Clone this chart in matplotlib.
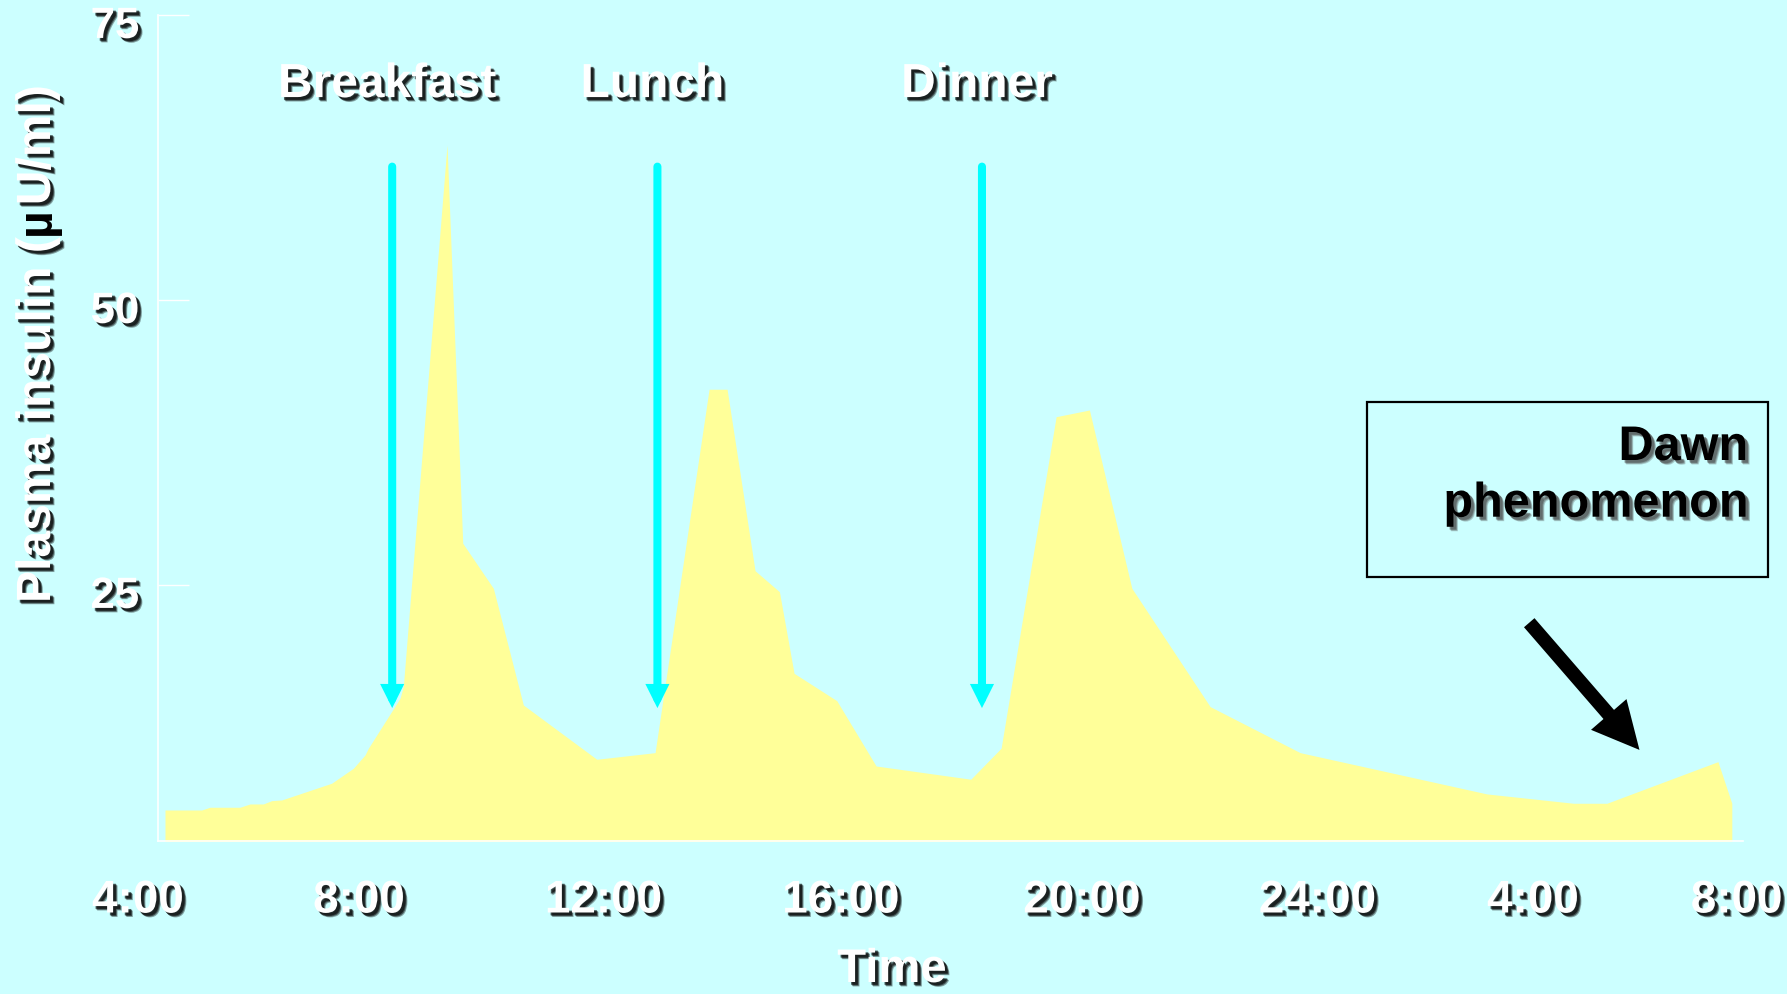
import matplotlib
matplotlib.use("Agg")
import matplotlib.pyplot as plt
import matplotlib.patheffects as pe
from matplotlib.patches import Rectangle
from matplotlib.transforms import ScaledTranslation

# ---- data (hours since 0:00 of day 1; values in µU/ml) ----
hours = [4.0, 4.656, 4.804, 5.340, 5.519, 5.757, 5.907, 6.086, 6.979, 7.366,
         7.575, 7.634, 8.200, 8.259, 9.040, 9.321, 9.868, 10.404, 11.716, 12.758,
         13.723, 14.045, 14.545, 14.980, 15.242, 16.005, 16.708, 18.400, 18.942,
         19.925, 20.520, 21.278, 22.677, 24.286, 27.623, 29.171, 29.768, 31.752, 32.0]
insulin = [5.26, 5.26, 5.50, 5.50, 5.79, 5.79, 6.08, 6.14, 7.61, 8.92,
           10.09, 10.68, 15.06, 16.08, 63.60, 28.66, 24.71, 14.47, 9.71, 10.29,
           42.17, 42.17, 26.25, 24.41, 17.25, 14.85, 9.12, 7.96, 10.68,
           39.76, 40.35, 24.71, 14.33, 10.29, 6.67, 5.85, 5.85, 9.50, 5.85]

meal_names = ["Breakfast", "Lunch", "Dinner"]
meal_times = [8.06, 12.80, 18.60]
meal_arrow_top = 61.7
meal_arrow_tip = 14.2
meal_label_y = 67.8

dawn_from = (28.38, 21.69)
dawn_to = (30.35, 10.53)
dawn_lines = ["Dawn", "phenomenon"]

tick_pos = [3.52, 7.47, 11.84, 16.08, 20.39, 24.60, 28.45, 32.09]
tick_labels = ["4:00", "8:00", "12:00", "16:00", "20:00", "24:00", "4:00", "8:00"]
y_ticks = [25, 50, 75]

# ---- style ----
plt.rcParams['font.family'] = ['Liberation Sans', 'DejaVu Sans']
BG = '#CCFFFF'
AREA = '#FFFF99'
CYAN = '#00FFFF'
W, H = 1787, 994


def shadow(color, alpha):
    fx = []
    for d, a in [(3.2, alpha * 0.35), (2.6, alpha * 0.5), (2.0, alpha * 0.6)]:
        fx.append(pe.SimplePatchShadow(offset=(d, -d), shadow_rgbFace=color, alpha=a))
    fx.append(pe.Normal())
    return fx


white_fx = shadow('black', 1.0)
black_fx = shadow('#444444', 0.8)

fig = plt.figure(figsize=(W / 100, H / 100), dpi=100, facecolor=BG)
ax = fig.add_axes([158 / W, 1 - 841 / H, (1743 - 158) / W, (841 - 15) / H])
ax.set_facecolor(BG)

ax.fill_between(hours, insulin, 0, color=AREA, linewidth=0, zorder=1)

for s in ['top', 'right']:
    ax.spines[s].set_visible(False)
for s in ['left', 'bottom']:
    ax.spines[s].set_color('white')
    ax.spines[s].set_linewidth(1.2)

ax.set_xticks([])
ax.set_yticks(y_ticks)
ax.tick_params(axis='y', direction='in', length=22, width=1, color='white',
               pad=13.5, labelsize=31.5, labelcolor='white')
down = ScaledTranslation(0, -5 / 72, fig.dpi_scale_trans)
for lbl in ax.get_yticklabels():
    lbl.set_fontweight('bold')
    lbl.set_path_effects(white_fx)
    lbl.set_transform(lbl.get_transform() + down)

ax.set_xlim(3.875, 32.2)
ax.set_ylim(2.54, 75)

# x tick labels (first one sits left of the axis, as in the original)
xt = ax.get_xaxis_transform()
for p, lab in zip(tick_pos, tick_labels):
    ax.text(p, -37.5 / 826, lab, transform=xt, ha='center', va='top', fontsize=33,
            fontweight='bold', color='white', path_effects=white_fx)

# meal arrows and labels
for name, t in zip(meal_names, meal_times):
    ax.annotate("", xy=(t, meal_arrow_tip), xytext=(t, meal_arrow_top),
                arrowprops=dict(arrowstyle="-|>,head_length=0.40,head_width=0.20",
                                mutation_scale=20, lw=5.8, color=CYAN,
                                shrinkA=0, shrinkB=0, capstyle='round',
                                joinstyle='miter'), zorder=3)
    ax.annotate(name, xy=(t, meal_label_y), xytext=(-3.6, 0), textcoords='offset points',
                ha='center', va='baseline', fontsize=34.5, fontweight='bold',
                color='white', path_effects=white_fx, zorder=4)

# dawn phenomenon arrow
ax.annotate("", xy=dawn_to, xytext=dawn_from,
            arrowprops=dict(arrowstyle="-|>,head_length=0.88,head_width=0.44",
                            mutation_scale=20, lw=10, color='black',
                            shrinkA=0, shrinkB=0, capstyle='butt',
                            joinstyle='miter'), zorder=3)

# dawn box
box = Rectangle((1367 / W, 1 - 577 / H), 401 / W, 175 / H, transform=fig.transFigure,
                fill=False, edgecolor='black', linewidth=1.6)
fig.add_artist(box)
fig.text(1748 / W, 1 - 460 / H, dawn_lines[0], ha='right', va='baseline', fontsize=35,
         fontweight='bold', color='black', path_effects=black_fx)
fig.text(1748 / W, 1 - 516.7 / H, dawn_lines[1], ha='right', va='baseline', fontsize=35,
         fontweight='bold', color='black', path_effects=black_fx)

# x label
ax.set_xlabel("Time", fontsize=34, fontweight='bold', color='white', path_effects=white_fx)
ax.xaxis.set_label_coords((892 - 158) / (1743 - 158), -(948 - 841) / 826)

# y label in pieces (µ is black in the original)
renderer = fig.canvas.get_renderer()
parts = [("Plasma insulin (", 'white'), ("µ", 'black'), ("U/ml)", 'white')]
ypix = 603
for txt, col in parts:
    t = fig.text(50 / W, 1 - ypix / H, txt, rotation=90, rotation_mode='anchor',
                 ha='left', va='baseline', fontsize=34.6, fontweight='bold', color=col,
                 path_effects=white_fx if col == 'white' else None)
    ext = t.get_window_extent(renderer)
    ypix -= ext.height + 2

fig.savefig('out.png', dpi=100, facecolor=BG)
